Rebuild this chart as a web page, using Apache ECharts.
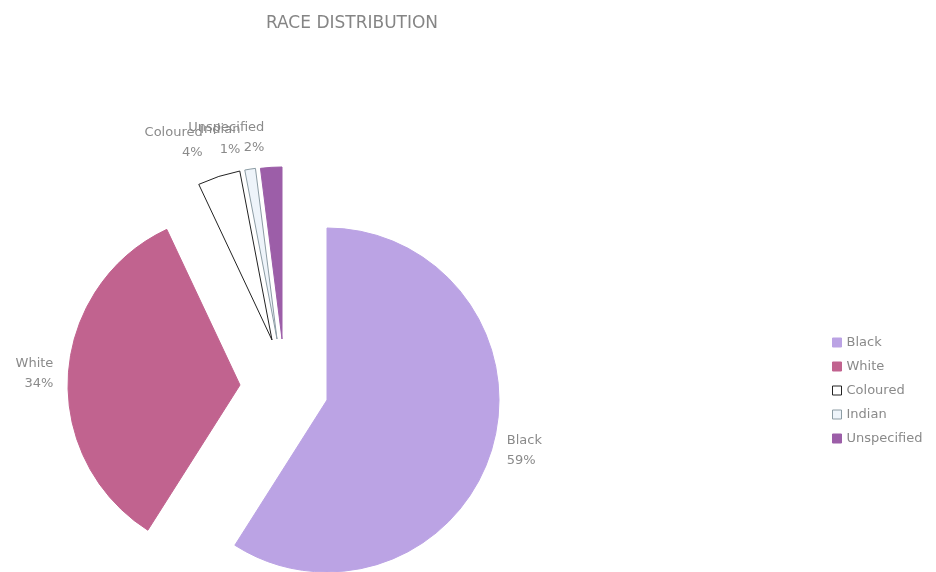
<!DOCTYPE html>
<html>
<head>
<meta charset="utf-8">
<script src="https://cdn.jsdelivr.net/npm/echarts@6/dist/echarts.min.js"></script>
<style>
  html, body { margin: 0; padding: 0; background: #fff; }
  #chart { width: 936px; height: 572px; }
</style>
</head>
<body>
<div id="chart"></div>
<script>
  let categories = ['Black', 'White', 'Coloured', 'Indian', 'Unspecified'];
  let shares = [59, 34, 4, 1, 2];

  // fill / edge per slice
  let fills = ['#bba3e4', '#c1638f', '#ffffff', '#eef4fa', '#9c5ea8'];
  let edges = ['#bba3e4', '#c1638f', '#222222', '#8c9ca4', '#9c5ea8'];
  // exploded slices: every slice is its own pie so it can sit off-centre
  let centers = [[327, 400], [240, 385], [272, 340], [277, 339], [282, 339]];
  let labelGap = [10, 10, 36, 30, 30];

  let labelColor = '#8a8a8a';
  let font = 'DejaVu Sans, Verdana, sans-serif';

  let series = categories.map(function (name, i) {
    return {
      name: name,
      type: 'pie',
      radius: 172,
      center: centers[i],
      startAngle: 90,
      clockwise: true,
      silent: true,
      animation: false,
      percentPrecision: 0,
      avoidLabelOverlap: false,
      labelLayout: { hideOverlap: false },
      label: {
        position: 'outside',
        formatter: '{b}\n{d}%',
        color: labelColor,
        fontFamily: font,
        fontSize: 13,
        lineHeight: 20
      },
      labelLine: { show: false, length: labelGap[i], length2: 0 },
      data: categories.map(function (n, j) {
        let own = j === i;
        return {
          name: n,
          value: shares[j],
          itemStyle: own
            ? { color: fills[j], borderColor: edges[j], borderWidth: 1 }
            : { color: 'transparent', borderWidth: 0 },
          label: { show: own }
        };
      })
    };
  });

  let option = {
    backgroundColor: '#ffffff',
    title: {
      text: 'RACE DISTRIBUTION',
      left: 347,
      top: 10,
      textAlign: 'center',
      textStyle: {
        color: '#858585',
        fontSize: 17,
        fontWeight: 'normal',
        fontFamily: font
      }
    },
    legend: {
      orient: 'vertical',
      left: 827,
      top: 331,
      itemWidth: 9,
      itemHeight: 9,
      itemGap: 11,
      icon: 'rect',
      selectedMode: false,
      textStyle: {
        color: labelColor,
        fontSize: 13,
        fontFamily: font
      },
      data: categories.map(function (n, j) {
        return {
          name: n,
          itemStyle: { color: fills[j], borderColor: edges[j], borderWidth: 1 }
        };
      })
    },
    series: series
  };

  let myChart = echarts.init(document.getElementById('chart'));
  myChart.setOption(option);
</script>
</body>
</html>
